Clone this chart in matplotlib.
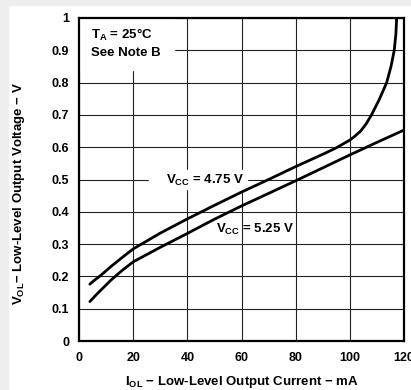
import numpy as np
import matplotlib
matplotlib.use("Agg")
import matplotlib.pyplot as plt
from matplotlib.patches import Rectangle

plt.rcParams['font.family'] = ['Liberation Sans', 'DejaVu Sans']
plt.rcParams['font.weight'] = 'bold'
plt.rcParams['mathtext.default'] = 'regular'

# I_OL (mA) vs V_OL (V)
i_475 = [4, 6, 8, 12, 16, 20, 30, 40, 50, 60, 70, 80, 90, 95, 100, 102, 104, 106, 108,
         111, 113.6, 115.2, 116.4, 117.0, 117.3]
v_475 = [0.176, 0.19, 0.203, 0.232, 0.259, 0.285, 0.334, 0.378, 0.42, 0.461, 0.50, 0.54,
         0.578, 0.598, 0.622, 0.635, 0.65, 0.672, 0.70, 0.75, 0.80, 0.85, 0.90, 0.95, 1.0]

i_525 = [4, 6, 8, 12, 16, 20, 30, 40, 50, 60, 70, 80, 90, 100, 110, 120]
v_525 = [0.122, 0.14, 0.157, 0.19, 0.219, 0.245, 0.29, 0.333, 0.377, 0.418, 0.457, 0.496,
         0.536, 0.576, 0.615, 0.653]

x_ticks = [0, 20, 40, 60, 80, 100, 120]
y_ticks = [0, 0.1, 0.2, 0.3, 0.4, 0.5, 0.6, 0.7, 0.8, 0.9, 1.0]
y_ticklabels = ['0', '0.1', '0.2', '0.3', '0.4', '0.5', '0.6', '0.7', '0.8', '0.9', '1']

fig = plt.figure(figsize=(4.11, 3.90), dpi=100)
# light grey frame of the screenshot
fig.patches.append(Rectangle((0, 385 / 390), 1, 5 / 390, transform=fig.transFigure,
                             color='#eeeeee', zorder=0))
fig.patches.append(Rectangle((0, 0), 8 / 411, 1, transform=fig.transFigure,
                             color='#eeeeee', zorder=0))

ax = fig.add_axes([79 / 411, 49 / 390, 325 / 411, 323 / 390])
ax.set_xlim(0, 120)
ax.set_ylim(0, 1)
ax.set_xticks(x_ticks)
ax.set_yticks(y_ticks)
ax.set_yticklabels(y_ticklabels)
ax.tick_params(length=0, labelsize=9)
ax.tick_params(axis='y', pad=7)
ax.tick_params(axis='x', pad=8)
ax.set_axisbelow(True)
ax.grid(True, color='#222222', linewidth=0.8)
for s in ax.spines.values():
    s.set_linewidth(1.6)

ax.plot(i_475, v_475, color='black', lw=2.0, zorder=3, solid_capstyle='round')
ax.plot(i_525, v_525, color='black', lw=2.0, zorder=3, solid_capstyle='round')

# white patches behind the notes (they hide the grid)
ax.add_patch(Rectangle((0, 0.839), 35.2, 0.161, color='white', zorder=1))
ax.add_patch(Rectangle((26, 0.47), 36, 0.06, color='white', zorder=1))

ax.text(4.4, 0.947, 'T$_{A}$ = 25°C', fontsize=9.5, va='center', ha='left', zorder=4)
ax.text(4.4, 0.893, 'See Note B', fontsize=9.5, va='center', ha='left', zorder=4)
ax.text(46.7, 0.497, 'V$_{CC}$ = 4.75 V', fontsize=9.5, va='center', ha='center', zorder=4)
ax.text(65.0, 0.346, 'V$_{CC}$ = 5.25 V', fontsize=9.5, va='center', ha='center', zorder=4)

fig.text(242 / 411, 8 / 390, 'I$_{OL}$ − Low-Level Output Current − mA', fontsize=9.5,
         ha='center', va='center')
fig.text(19 / 411, 196 / 390, 'V$_{OL}$− Low-Level Output Voltage − V', fontsize=9.5,
         ha='center', va='center', rotation=90)

fig.savefig('out.png', dpi=100)
